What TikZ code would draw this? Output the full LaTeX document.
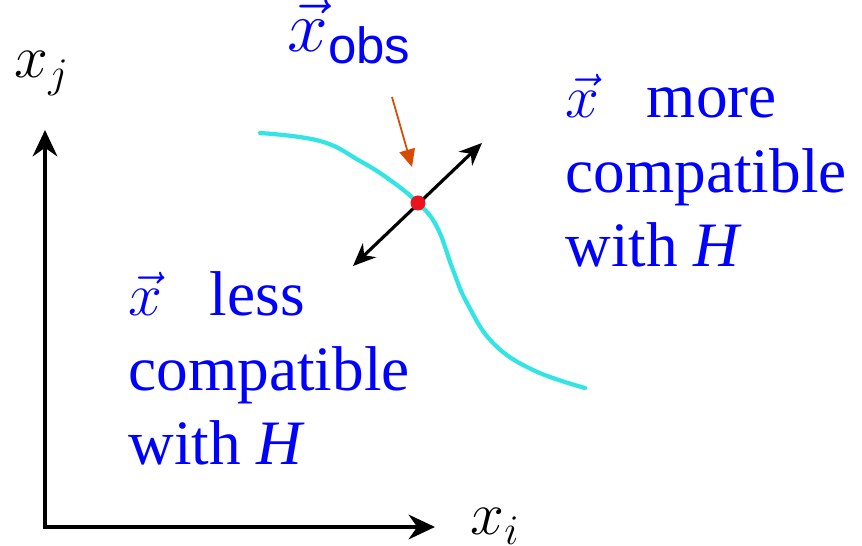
\documentclass[tikz,border=0pt]{standalone}
\usepackage{fontspec}
\setmainfont{Liberation Serif}
\newfontfamily\obsfont{Liberation Sans}
\usetikzlibrary{arrows.meta}

\definecolor{curvecyan}{RGB}{50,228,228}
\definecolor{dotred}{RGB}{235,20,30}
\definecolor{obsorange}{RGB}{215,75,5}
\definecolor{txtblue}{RGB}{0,0,255}

\tikzset{
  axisline/.style={black, line width=1.2pt,
    {Stealth[length=7.5pt,width=7pt]}-{Stealth[length=7.5pt,width=7pt]}},
  bothways/.style={black, line width=0.9pt,
    {Stealth[length=6.5pt,width=5.5pt]}-{Stealth[length=6.5pt,width=5.5pt]}},
  axislabel/.style={anchor=base west, inner sep=0pt, font=\fontsize{17}{20}\selectfont},
  bluetext/.style={txtblue, anchor=base west, align=left, inner sep=0pt,
    font=\fontsize{18}{21.2}\selectfont}
}

\begin{document}
\begin{tikzpicture}

  \useasboundingbox (0,0) rectangle (8.62,5.46);

  % axes
  \coordinate (origin) at (0.45,0.19);
  \coordinate (jtip) at (0.45,4.16);
  \coordinate (itip) at (4.35,0.19);
  \draw[axisline] (jtip) -- (origin) -- (itip);
  \node[axislabel] (xj) at (0.14,4.68) {$x_j$};
  \node[axislabel] (xi) at (4.70,0.11) {$x_i$};

  % the surface of constant test statistic
  \draw[curvecyan, line width=1.2pt, line cap=round] plot[smooth, tension=0.7] coordinates {
    (2.60,4.13) (3.20,4.05) (3.60,3.85) (3.90,3.66) (4.18,3.43) (4.37,3.19)
    (4.53,2.76) (4.67,2.43) (4.93,2.03) (5.33,1.76) (5.85,1.58)};

  % direction across the curve
  \coordinate (lessend) at (3.53,2.80);
  \coordinate (moreend) at (4.82,4.03);
  \draw[bothways] (lessend) -- (moreend);
  \node[circle, fill=dotred, inner sep=0pt, minimum size=0.15cm] (xobs) at (4.18,3.43) {};

  % observed point
  \node[txtblue, anchor=base west, inner sep=0pt, font=\fontsize{19.5}{22}\selectfont] (obslabel) at (2.87,4.94)
    {$\vec{x}_{\mbox{\obsfont\fontsize{14.5}{17}\selectfont obs}}$};
  \coordinate (obstail) at (3.92,4.49);
  \coordinate (obshead) at (4.12,3.79);
  \draw[obsorange, line width=0.5pt, -{Triangle[length=5pt,width=4.5pt]}] (obstail) -- (obshead);

  % the two sides, anchored at the baseline of the last line
  \node[bluetext] (moretext) at (5.65,2.79) {$\vec{x}$\hspace{0.75em}more\\compatible\\with \textit{H}};
  \node[bluetext] (lesstext) at (1.28,0.81) {$\vec{x}$\hspace{0.75em}less\\compatible\\with \textit{H}};

\end{tikzpicture}
\end{document}
